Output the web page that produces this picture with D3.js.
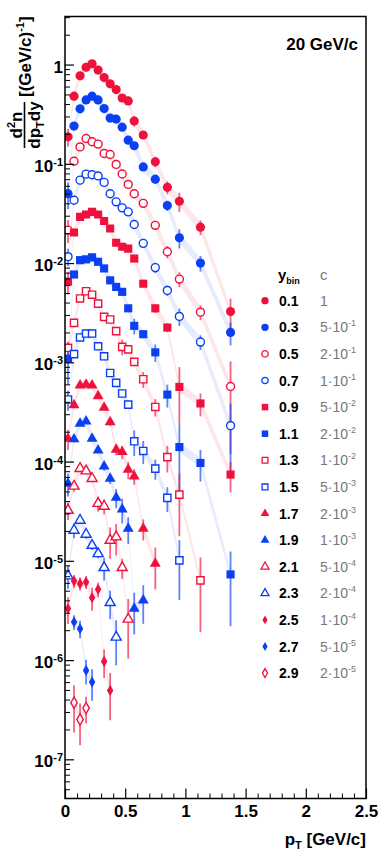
<!DOCTYPE html>
<html>
<head>
<meta charset="utf-8">
<script src="https://cdn.jsdelivr.net/npm/d3@7"></script>
<style>
  body { margin: 0; background: #fff; }
  text { font-family: "Liberation Sans", Arial, sans-serif; }
</style>
</head>
<body>
<div id="chart"></div>
<script>
// pT bin centres [GeV/c]
var pt = [0.025, 0.075, 0.125, 0.175, 0.225, 0.275, 0.325, 0.375, 0.425, 0.475,
          0.525, 0.575, 0.65, 0.75, 0.85, 0.95, 1.125, 1.375];

var yBins = ["0.1", "0.3", "0.5", "0.7", "0.9", "1.1", "1.3", "1.5",
             "1.7", "1.9", "2.1", "2.3", "2.5", "2.7", "2.9"];
var cMant = [1, 5, 2, 1, 5, 2, 1, 5, 2, 1, 5, 2, 1, 5, 2];
var cExp  = [0, -1, -1, -1, -2, -2, -2, -3, -3, -3, -4, -4, -4, -5, -5];

// scaled spectra (already multiplied by c), one value per pT bin
var s01 = [0.187, 0.48, 0.77, 0.94, 1.02, 0.88, 0.74, 0.64, 0.56, 0.46, 0.43, 0.27, 0.195, 0.105, 0.058, 0.042, 0.023, 0.00325];
var s03 = [0.050, 0.24, 0.358, 0.44, 0.48, 0.44, 0.36, 0.289, 0.282, 0.234, 0.173, 0.152, 0.093, 0.070, 0.038, 0.018, 0.010, 0.0020];
var s05 = [0.0215, 0.106, 0.148, 0.180, 0.167, 0.158, 0.127, 0.124, 0.0986, 0.079, 0.062, 0.050, 0.040, 0.024, 0.013, 0.0069, 0.0032, 0.00057];
var s07 = [0.0116, 0.043, 0.0685, 0.0787, 0.0775, 0.0755, 0.065, 0.050, 0.0414, 0.036, 0.0328, 0.0245, 0.0158, 0.0090, 0.0053, 0.0029, 0.0016, 0.00023];
var s09 = [0.0065, 0.0203, 0.0292, 0.0309, 0.0328, 0.0309, 0.0265, 0.0223, 0.016, 0.0146, 0.014, 0.0111, 0.0062, 0.0035, 0.00224, 0.000565, 0.000385, 0.000074];
var s11 = [0.00109, 0.00767, 0.0107, 0.0109, 0.0114, 0.0103, 0.00883, 0.0067, 0.00575, 0.00513, 0.0035, 0.00233, 0.00192, 0.00126, 0.000473, 0.00014, 0.0000968, 0.0000073];
var s13 = [0.0014, 0.0025, 0.0044, 0.0052, 0.0048, 0.0039, 0.00287, 0.0027, 0.00206, 0.00143, 0.00135, 0.00101, 0.000675, 0.000355, 0.000111, 0.0000465, 0.00000636];
var s15 = [0.000422, 0.00121, 0.00178, 0.00195, 0.00195, 0.00145, 0.00115, 0.00078, 0.00062, 0.000485, 0.000375, 0.00016, 0.000128, 0.000085, 0.0000431, 0.0000101];
var s17 = [0.00017, 0.00037, 0.000587, 0.000597, 0.000587, 0.000458, 0.00035, 0.00025, 0.000132, 0.000125, 0.000083, 0.0000711, 0.0000211, 0.00000937];
var s19 = [0.00006, 0.000168, 0.000242, 0.000255, 0.00017, 0.00013, 0.0000897, 0.0000674, 0.0000434, 0.000033, 0.0000211, 0.0000033, 0.000004];
var s21 = [0.0000323, 0.0000564, 0.0000851, 0.0000804, 0.0000674, 0.0000378, 0.0000354, 0.0000161, 0.0000174, 0.00000854, 0.00000258];
var s23 = [0.00000703, 0.0000203, 0.0000256, 0.0000185, 0.0000143, 0.0000118, 0.00000854, 0.00000379, 0.0000017];
var s25 = [0.0000033, 0.00000625, 0.00000589, 0.00000611, 0.00000425, 0.00000516, 0.00000097, 0.000000495];
var s27 = [null, 0.00000242, 0.00000207, 0.000000787, 0.0000006];
var s29 = [null, 3.72e-7, 2.52e-7, 3.28e-7];

// relative statistical errors
var e01 = [0.2, 0.1, 0.04, 0.03, 0.03, 0.03, 0.03, 0.03, 0.03, 0.07, 0.06, 0.12, 0.08, 0.12, 0.15, 0.22, 0.17, 0.35];
var e03 = [0.3, 0.08, 0.03, 0.03, 0.03, 0.03, 0.03, 0.03, 0.03, 0.03, 0.06, 0.06, 0.08, 0.1, 0.12, 0.22, 0.18, 0.26];
var e05 = [0.26, 0.08, 0.03, 0.03, 0.03, 0.03, 0.03, 0.03, 0.03, 0.03, 0.03, 0.06, 0.06, 0.08, 0.14, 0.17, 0.17, 0.79];
var e07 = [0.2, 0.08, 0.03, 0.03, 0.03, 0.03, 0.03, 0.03, 0.03, 0.03, 0.03, 0.06, 0.08, 0.12, 0.12, 0.2, 0.17, 0.67];
var e09 = [0.26, 0.07, 0.03, 0.03, 0.03, 0.03, 0.03, 0.03, 0.03, 0.03, 0.03, 0.05, 0.07, 0.1, 0.1, 0.58, 0.26, 0.34];
var e11 = [0.45, 0.06, 0.03, 0.03, 0.03, 0.03, 0.03, 0.03, 0.03, 0.03, 0.05, 0.18, 0.08, 0.2, 0.26, 0.7, 0.35, 0.7];
var e13 = [0.15, 0.1, 0.04, 0.03, 0.03, 0.03, 0.03, 0.03, 0.05, 0.18, 0.08, 0.08, 0.18, 0.2, 0.3, 0.62, 0.7];
var e15 = [0.23, 0.08, 0.05, 0.04, 0.04, 0.05, 0.05, 0.06, 0.08, 0.08, 0.08, 0.29, 0.26, 0.23, 0.28, 0.6];
var e17 = [0.23, 0.07, 0.03, 0.03, 0.03, 0.05, 0.05, 0.08, 0.12, 0.15, 0.2, 0.18, 0.24, 0.45];
var e19 = [0.26, 0.07, 0.04, 0.04, 0.05, 0.06, 0.1, 0.12, 0.22, 0.28, 0.3, 0.45, 0.42];
var e21 = [0.2, 0.12, 0.05, 0.05, 0.05, 0.17, 0.17, 0.35, 0.35, 0.23, 0.6];
var e23 = [0.26, 0.17, 0.05, 0.1, 0.1, 0.1, 0.26, 0.32, 0.48];
var e25 = [0.3, 0.15, 0.15, 0.15, 0.26, 0.17, 0.32, 0.5];
var e27 = [null, 0.17, 0.2, 0.28, 0.35];
var e29 = [null, 0.5, 0.45, 0.3];

var spectra = [s01, s03, s05, s07, s09, s11, s13, s15, s17, s19, s21, s23, s25, s27, s29];
var errors  = [e01, e03, e05, e07, e09, e11, e13, e15, e17, e19, e21, e23, e25, e27, e29];

function chartBasics() {
    var margin = { top: 16.5, right: 20, bottom: 69.5, left: 65 },
        width = 386 - margin.left - margin.right,
        height = 868 - margin.top - margin.bottom;
    return {
        margin: margin,
        width: width,
        height: height,
        red: "#f0103c",
        blue: "#0b3ff2",
        shapes: ["circle", "circle", "circle", "circle", "square", "square", "square", "square",
                 "triangle", "triangle", "triangle", "triangle", "diamond", "diamond", "diamond"],
        open: [false, false, true, true, false, false, true, true, false, false, true, true, false, false, true]
    };
}

function symbolFor(shape, open, scale) {
    var type = { circle: d3.symbolCircle, square: d3.symbolSquare, triangle: d3.symbolTriangle, diamond: d3.symbolDiamond }[shape];
    var size = { circle: open ? 50 : 66, square: open ? 52 : 66, triangle: open ? 44 : 52, diamond: 36 }[shape];
    return d3.symbol().type(type).size(size * scale * scale)();
}

function supText(sel, base, sup, supSize, dy) {
    sel.append("tspan").text(base);
    if (sup) {
        sel.append("tspan").attr("dy", -dy).attr("font-size", supSize).text(sup);
    }
}

function drawChart() {
    var b = chartBasics(),
        margin = b.margin, width = b.width, height = b.height;

    var svg = d3.select("#chart").append("svg")
        .attr("width", 386)
        .attr("height", 868);

    var plot = svg.append("g")
        .attr("transform", "translate(" + margin.left + "," + margin.top + ")");

    var xScale = d3.scaleLinear().domain([0, 2.5]).range([0, width]);
    var yScale = d3.scaleLog().domain([4.03e-8, 3.05]).range([height, 0]);

    var colorOf = function(i) { return i % 2 === 0 ? b.red : b.blue; };

    var clip = plot.append("clipPath").attr("id", "clip")
        .append("rect").attr("width", width).attr("height", height);

    var marks = plot.append("g").attr("clip-path", "url(#clip)");

    var series = spectra.map(function(vals, i) {
        return vals.map(function(v, j) {
            return { x: pt[j], v: v, e: errors[i][j] };
        }).filter(function(d) { return d.v != null; });
    });

    // systematic bands
    var band = d3.area()
        .x(function(d) { return xScale(d.x); })
        .y0(function(d) { return yScale(d.v / 1.12); })
        .y1(function(d) { return yScale(d.v * 1.12); });

    series.forEach(function(data, i) {
        marks.append("path")
            .datum(data)
            .attr("d", band)
            .attr("fill", colorOf(i))
            .attr("fill-opacity", 0.1);
    });

    // error bars and markers
    series.forEach(function(data, i) {
        var g = marks.append("g");
        g.selectAll("line")
            .data(data)
            .enter()
            .append("line")
            .attr("x1", function(d) { return xScale(d.x); })
            .attr("x2", function(d) { return xScale(d.x); })
            .attr("y1", function(d) { return yScale(d.v * (1 + d.e)); })
            .attr("y2", function(d) {
                var lo = d.v * (1 - d.e);
                return lo > 4.03e-8 ? yScale(lo) : height;
            })
            .attr("stroke", colorOf(i))
            .attr("stroke-opacity", 0.65)
            .attr("stroke-width", 1.8);

        g.selectAll("path")
            .data(data)
            .enter()
            .append("path")
            .attr("transform", function(d) { return "translate(" + xScale(d.x) + "," + yScale(d.v) + ")"; })
            .attr("d", symbolFor(b.shapes[i], b.open[i], 1))
            .attr("fill", b.open[i] ? "#fff" : colorOf(i))
            .attr("stroke", b.open[i] ? colorOf(i) : "none")
            .attr("stroke-width", 1.4);
    });

    // y axis
    var majors = d3.range(-7, 1).map(function(k) { return Math.pow(10, k); });
    var minors = [];
    d3.range(-8, 1).forEach(function(k) {
        for (var m = 2; m <= 9; m++) {
            var v = m * Math.pow(10, k);
            if (v > 4.03e-8 && v < 3.05) minors.push(v);
        }
    });

    plot.append("g")
        .call(d3.axisLeft(yScale).tickValues(minors).tickSizeInner(-5).tickSizeOuter(0).tickFormat(""))
        .call(function(g) { g.select(".domain").remove(); });

    var yAxis = plot.append("g")
        .call(d3.axisLeft(yScale).tickValues(majors).tickSizeInner(-9).tickSizeOuter(0).tickPadding(2).tickFormat(""))
        .call(function(g) { g.select(".domain").remove(); });

    yAxis.selectAll(".tick line").attr("stroke-width", 1.2);
    yAxis.selectAll(".tick text")
        .attr("font-size", 17)
        .attr("font-weight", "bold")
        .attr("fill", "#000")
        .attr("dy", "0.45em")
        .each(function(d) {
            var k = Math.round(Math.log10(d));
            var t = d3.select(this);
            if (k === 0) supText(t, "1");
            else supText(t, "10", String(k), 11, 6);
        });

    // x axis
    var xAxis = plot.append("g")
        .attr("transform", "translate(0," + height + ")")
        .call(d3.axisBottom(xScale).tickValues([0, 0.5, 1, 1.5, 2, 2.5]).tickSizeInner(-10).tickSizeOuter(0).tickPadding(6)
            .tickFormat(function(d) { return d3.format("")(d); }))
        .call(function(g) { g.select(".domain").remove(); });
    xAxis.selectAll(".tick line").attr("stroke-width", 1.2);
    xAxis.selectAll(".tick text")
        .attr("font-size", 17)
        .attr("font-weight", "bold")
        .attr("fill", "#000");

    plot.append("g")
        .attr("transform", "translate(0," + height + ")")
        .call(d3.axisBottom(xScale).tickValues(d3.range(0.1, 2.5, 0.1).filter(function(v) {
                return Math.abs(v * 2 - Math.round(v * 2)) > 0.01;
            })).tickSizeInner(-5).tickSizeOuter(0).tickFormat(""))
        .call(function(g) { g.select(".domain").remove(); });

    // frame
    plot.append("rect")
        .attr("width", width)
        .attr("height", height)
        .attr("fill", "none")
        .attr("stroke", "#000")
        .attr("stroke-width", 1.5);

    // axis titles
    var xt = svg.append("text")
        .attr("x", margin.left + width)
        .attr("y", 845)
        .attr("text-anchor", "end")
        .attr("font-size", 17)
        .attr("font-weight", "bold");
    xt.append("tspan").text("p");
    xt.append("tspan").attr("dy", 4).attr("font-size", 11).text("T");
    xt.append("tspan").attr("dy", -4).text(" [GeV/c]");

    var yt = svg.append("g").attr("transform", "rotate(-90)")
        .attr("font-size", 17).attr("font-weight", "bold");
    var num = yt.append("text").attr("x", -125).attr("y", 21.5).attr("text-anchor", "middle");
    num.append("tspan").text("d");
    num.append("tspan").attr("dy", -7).attr("font-size", 11).text("2");
    num.append("tspan").attr("dy", 7).text("n");
    yt.append("line")
        .attr("x1", -148).attr("x2", -102)
        .attr("y1", 24.5).attr("y2", 24.5)
        .attr("stroke", "#000").attr("stroke-width", 1.6);
    var den = yt.append("text").attr("x", -125).attr("y", 40).attr("text-anchor", "middle");
    den.append("tspan").text("dp");
    den.append("tspan").attr("dy", 4).attr("font-size", 11).text("T");
    den.append("tspan").attr("dy", -4).text("dy");
    var unit = yt.append("text").attr("x", -97).attr("y", 31);
    unit.append("tspan").text("[(GeV/c)");
    unit.append("tspan").attr("dy", -7).attr("font-size", 11).text("-1");
    unit.append("tspan").attr("dy", 7).text("]");

    svg.append("text")
        .attr("x", 358)
        .attr("y", 50)
        .attr("text-anchor", "end")
        .attr("font-size", 17)
        .attr("font-weight", "bold")
        .text("20 GeV/c");

    // legend
    var legend = svg.append("g");
    var hy = legend.append("text").attr("x", 278).attr("y", 280)
        .attr("font-family", "'Liberation Mono', monospace").attr("font-weight", "bold").attr("font-size", 15);
    hy.append("tspan").text("y");
    hy.append("tspan").attr("dy", 4).attr("font-size", 9).text("bin");
    legend.append("text").attr("x", 320).attr("y", 280)
        .attr("font-family", "'Liberation Mono', monospace").attr("font-size", 15).attr("fill", "#777")
        .text("c");

    var rows = legend.selectAll("g.row")
        .data(yBins)
        .enter()
        .append("g")
        .attr("class", "row")
        .attr("transform", function(d, i) { return "translate(0," + (300.7 + i * 26.6) + ")"; });

    rows.append("path")
        .attr("transform", "translate(265,0)")
        .attr("d", function(d, i) { return symbolFor(b.shapes[i], b.open[i], 0.8); })
        .attr("fill", function(d, i) { return b.open[i] ? "#fff" : colorOf(i); })
        .attr("stroke", function(d, i) { return b.open[i] ? colorOf(i) : "none"; })
        .attr("stroke-width", 1.3);

    rows.append("text")
        .attr("x", 279)
        .attr("y", 5)
        .attr("font-family", "'Liberation Mono', monospace")
        .attr("font-weight", "bold")
        .attr("font-size", 14)
        .text(function(d) { return d; });

    rows.append("text")
        .attr("x", 320)
        .attr("y", 5)
        .attr("font-size", 14)
        .attr("fill", "#777")
        .each(function(d, i) {
            var t = d3.select(this);
            if (cExp[i] === 0) t.text(String(cMant[i]));
            else supText(t, cMant[i] + "\u00b710", String(cExp[i]), 9, 6);
        });
}

drawChart();
</script>
</body>
</html>
